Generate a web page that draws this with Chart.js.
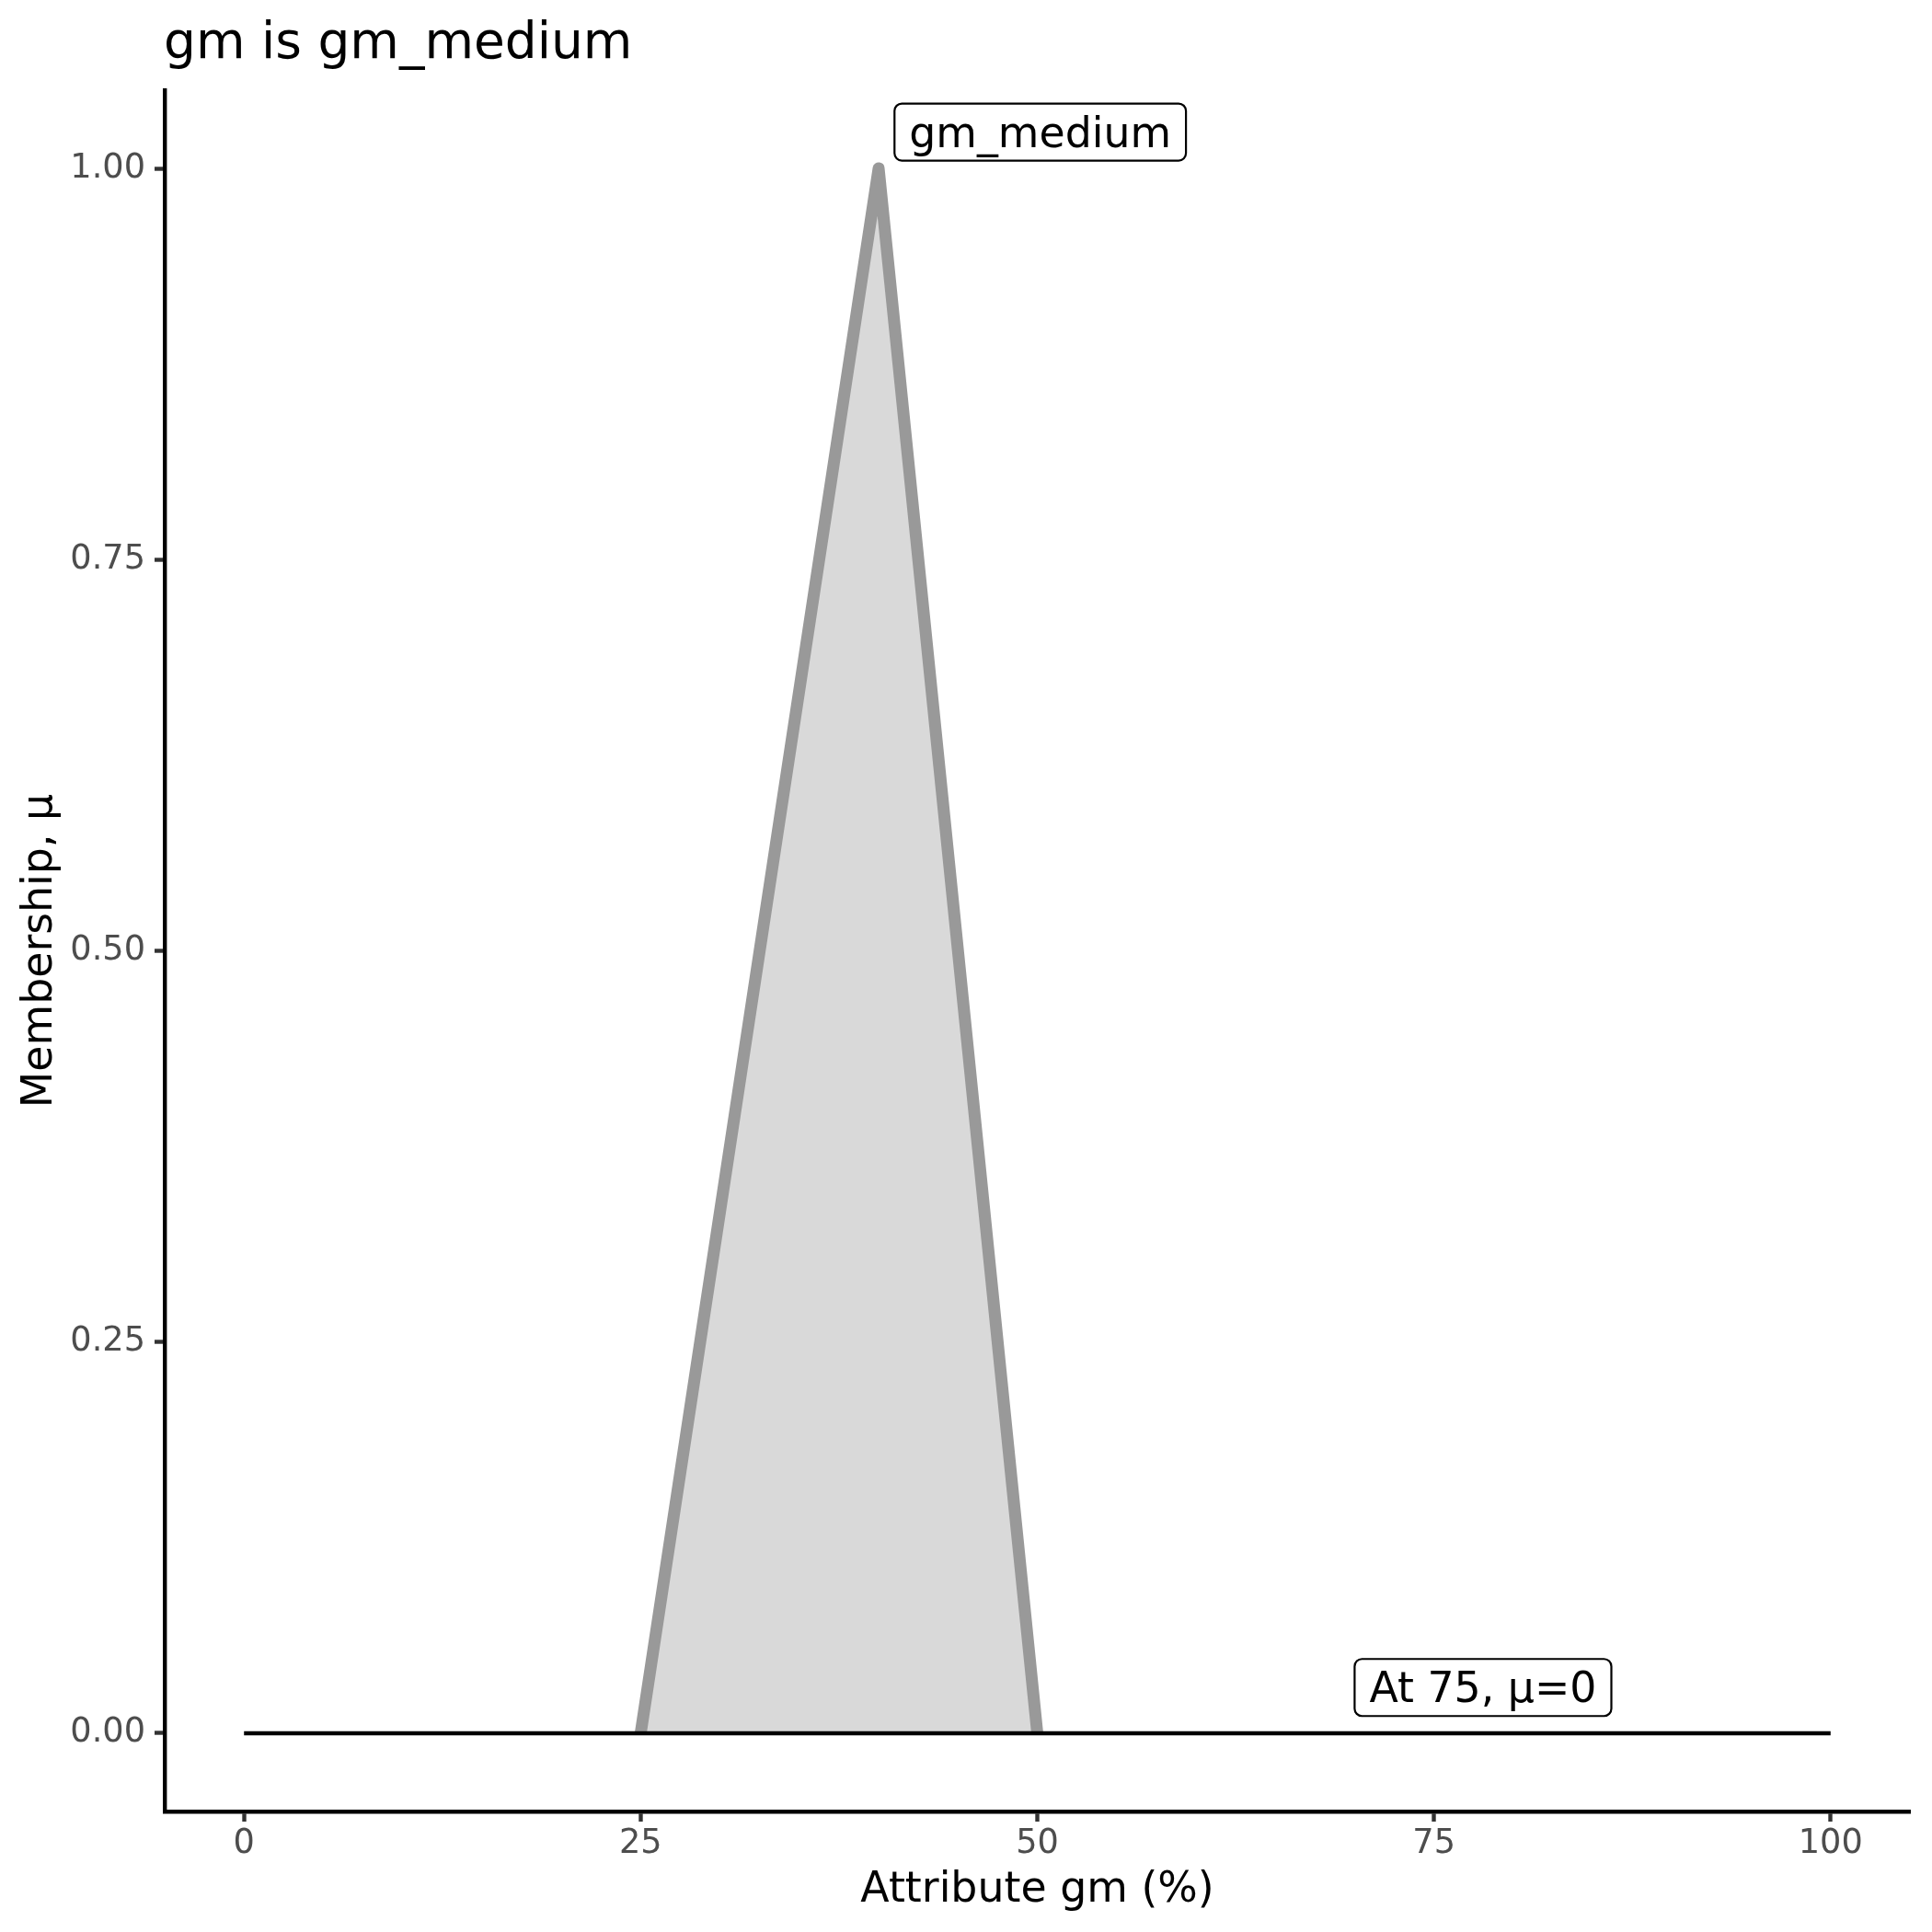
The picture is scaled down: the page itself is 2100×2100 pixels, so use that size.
<!DOCTYPE html>
<html>
<head>
<meta charset="utf-8">
<style>
  html, body { margin: 0; padding: 0; background: #ffffff; }
  #wrap { width: 2100px; height: 2100px; }
</style>
<script src="https://cdn.jsdelivr.net/npm/chart.js@4.4.1/dist/chart.umd.min.js"></script>
</head>
<body>
<div id="wrap"><canvas id="c" width="2100" height="2100"></canvas></div>
<script>
// ---- data ----
const chartTitle = 'gm is gm_medium';
const xAxisTitle = 'Attribute gm (%)';
const yAxisTitle = 'Membership, μ';

const setX = [25, 40, 50];          // triangular membership function gm_medium
const setMu = [0, 1, 0];

const evalX = [0, 100];             // evaluation line μ = 0 across the domain
const evalMu = [0, 0];

const xTickValues = [0, 25, 50, 75, 100];
const xTickLabels = ['0', '25', '50', '75', '100'];
const yTickValues = [0, 0.25, 0.5, 0.75, 1];
const yTickLabels = ['0.00', '0.25', '0.50', '0.75', '1.00'];

const annText = ['gm_medium', 'At 75, μ=0'];
const annX = [41, 70];
const annY = [1.005, 0.011];

// ---- build ----
const FONT = '"DejaVu Sans", "Liberation Sans", sans-serif';
const toPts = (xs, ys) => xs.map((x, i) => ({ x: x, y: ys[i] }));

const titlePlugin = {
  id: 'ggTitle',
  afterDraw(chart) {
    const ctx = chart.ctx;
    ctx.save();
    ctx.font = '55px ' + FONT;
    ctx.fillStyle = '#000000';
    ctx.textAlign = 'left';
    ctx.textBaseline = 'alphabetic';
    ctx.fillText(chartTitle, 178, 63);
    ctx.restore();
  }
};

const labelPlugin = {
  id: 'ggLabels',
  afterDatasetsDraw(chart) {
    const ctx = chart.ctx;
    const xs = chart.scales.x, ys = chart.scales.y;
    ctx.save();
    const fs = 45.8;
    ctx.font = fs + 'px ' + FONT;
    annText.forEach((t, i) => {
      const left = xs.getPixelForValue(annX[i]);
      const bottom = ys.getPixelForValue(annY[i]);
      const tw = ctx.measureText(t).width;
      const padX = 16;
      const w = tw + 2 * padX;
      const h = 62;
      const top = bottom - h;
      const r = 8;
      ctx.beginPath();
      ctx.moveTo(left + r, top);
      ctx.lineTo(left + w - r, top);
      ctx.arcTo(left + w, top, left + w, top + r, r);
      ctx.lineTo(left + w, bottom - r);
      ctx.arcTo(left + w, bottom, left + w - r, bottom, r);
      ctx.lineTo(left + r, bottom);
      ctx.arcTo(left, bottom, left, bottom - r, r);
      ctx.lineTo(left, top + r);
      ctx.arcTo(left, top, left + r, top, r);
      ctx.closePath();
      ctx.fillStyle = '#ffffff';
      ctx.fill();
      ctx.lineWidth = 2.2;
      ctx.strokeStyle = '#000000';
      ctx.stroke();
      ctx.fillStyle = '#000000';
      ctx.textAlign = 'left';
      ctx.textBaseline = 'alphabetic';
      ctx.fillText(t, left + padX, bottom - 15);
    });
    ctx.restore();
  }
};

const ctx = document.getElementById('c').getContext('2d');
new Chart(ctx, {
  type: 'line',
  data: {
    datasets: [
      {
        label: 'evaluation',
        data: toPts(evalX, evalMu),
        borderColor: '#000000',
        borderWidth: 4.4,
        pointRadius: 0,
        fill: false,
        order: 0
      },
      {
        label: 'gm_medium',
        data: toPts(setX, setMu),
        borderColor: '#999999',
        backgroundColor: '#D9D9D9',
        borderWidth: 13,
        borderJoinStyle: 'round',
        borderCapStyle: 'butt',
        pointRadius: 0,
        fill: 'origin',
        tension: 0,
        order: 1
      }
    ]
  },
  options: {
    responsive: false,
    animation: false,
    devicePixelRatio: 1,
    layout: { padding: { left: 0, right: 24, top: 98, bottom: 0 } },
    plugins: {
      legend: { display: false },
      tooltip: { enabled: false },
      title: { display: false }
    },
    scales: {
      x: {
        type: 'linear',
        min: -5,
        max: 105,
        afterFit(scale) { scale.height = 131; },
        afterBuildTicks(scale) { scale.ticks = xTickValues.map(v => ({ value: v })); },
        grid: {
          display: true,
          drawOnChartArea: false,
          drawTicks: true,
          tickLength: 11,
          tickColor: '#333333',
          tickWidth: 4.4
        },
        border: { display: true, color: '#000000', width: 4.4 },
        ticks: {
          autoSkip: false,
          maxRotation: 0,
          padding: 2,
          color: '#4D4D4D',
          font: { family: FONT, size: 36.7 },
          callback: (v) => xTickLabels[xTickValues.indexOf(v)]
        },
        title: {
          display: true,
          text: xAxisTitle,
          color: '#000000',
          font: { family: FONT, size: 45.8 },
          padding: { top: 0, bottom: 17.5 }
        }
      },
      y: {
        type: 'linear',
        min: -0.05,
        max: 1.05,
        afterFit(scale) { scale.width = 179; },
        afterBuildTicks(scale) { scale.ticks = yTickValues.map(v => ({ value: v })); },
        grid: {
          display: true,
          drawOnChartArea: false,
          drawTicks: true,
          tickLength: 11,
          tickColor: '#333333',
          tickWidth: 4.4
        },
        border: { display: true, color: '#000000', width: 4.4 },
        ticks: {
          autoSkip: false,
          padding: 10,
          color: '#4D4D4D',
          font: { family: FONT, size: 36.7 },
          callback: (v) => yTickLabels[yTickValues.indexOf(v)]
        },
        title: {
          display: true,
          text: yAxisTitle,
          color: '#000000',
          font: { family: FONT, size: 45.8 },
          padding: { top: 17, bottom: 0 }
        }
      }
    }
  },
  plugins: [titlePlugin, labelPlugin]
});
</script>
</body>
</html>
